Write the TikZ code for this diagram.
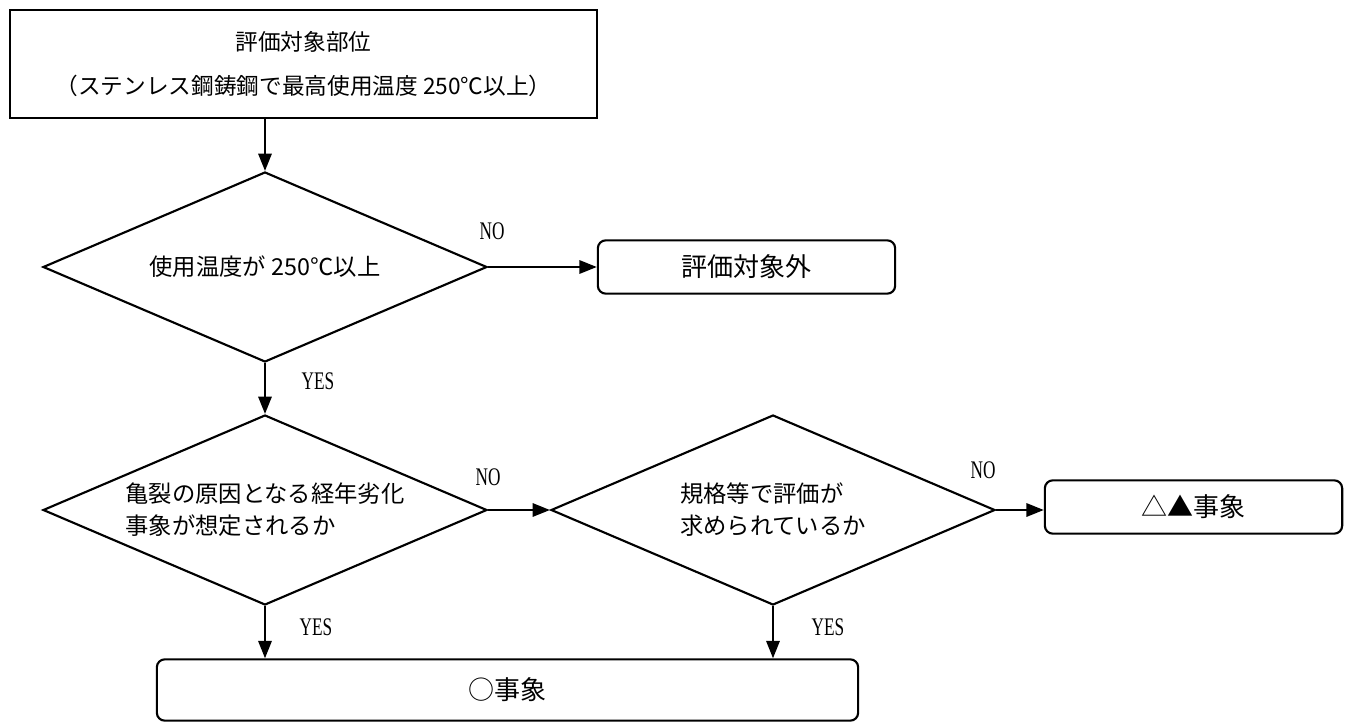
\documentclass[tikz,border=0pt]{standalone}
\usepackage{fontspec}
\usepackage{graphicx}
\newfontfamily\jpfont{Noto Sans CJK JP}
\newfontfamily\ynfont{Liberation Serif}
\newcommand{\narrowtext}[1]{\scalebox{0.68}[1]{#1}}
\usetikzlibrary{arrows.meta,shapes.geometric,positioning}

\begin{document}
\begin{tikzpicture}[
    x=0.75pt, y=-0.75pt,
    line width=1.6pt,
    startbox/.style={
      draw,minimum width=440pt,minimum height=81pt,align=center,
      font=\jpfont\fontsize{17}{33.5}\selectfont
    },
    decision/.style={
      draw,diamond,aspect=2.34,inner sep=0pt,minimum width=333pt,minimum height=142.5pt,
      align=left,font=\jpfont\fontsize{17.5}{24}\selectfont
    },
    endbox/.style={
      draw,rounded corners=6pt,minimum width=223pt,minimum height=40pt,
      font=\jpfont\fontsize{19.5}{24}\selectfont
    },
    answer/.style={font=\ynfont\fontsize{19}{22}\selectfont},
    flow/.style={-{Triangle[length=13pt,width=10pt]}}
  ]
  \useasboundingbox (0,0) rectangle (1349,724);

  \node (top) [startbox] at (303.5,64)
    {評価対象部位\\（ステンレス鋼鋳鋼で最高使用温度 250℃以上）};

  \node (d1) [decision] at (265,267) {使用温度が 250℃以上};
  \node (outside) [endbox] at (746.5,267) {評価対象外};

  \node (d2) [decision] at (265,510) {亀裂の原因となる経年劣化\\事象が想定されるか};
  \node (d3) [decision] at (773,510) {規格等で評価が\\求められているか};
  \node (tri) [endbox] at (1193.5,507) {△▲事象};

  \node (circ) [endbox,minimum width=526pt,minimum height=46pt] at (507.5,690) {○事象};

  % answers
  \node (no1)  [answer] at (492,231) {\narrowtext{NO}};
  \node (yes1) [answer] at (318,381) {\narrowtext{YES}};
  \node (no2)  [answer] at (488,477) {\narrowtext{NO}};
  \node (no3)  [answer] at (983,470) {\narrowtext{NO}};
  \node (yes2) [answer] at (316,627) {\narrowtext{YES}};
  \node (yes3) [answer] at (828,627) {\narrowtext{YES}};

  % draw flow
  \draw [flow] (top.south -| d1.north) -- (d1.north);
  \draw [flow] (d1.east) -- (d1.east -| outside.west);
  \draw [flow] (d1.south) -- (d2.north);
  \draw [flow] (d2.east) -- (d3.west);
  \draw [flow] (d3.east) -- (d3.east -| tri.west);
  \draw [flow] (d2.south) -- (d2.south |- circ.north);
  \draw [flow] (d3.south) -- (d3.south |- circ.north);
\end{tikzpicture}
\end{document}
